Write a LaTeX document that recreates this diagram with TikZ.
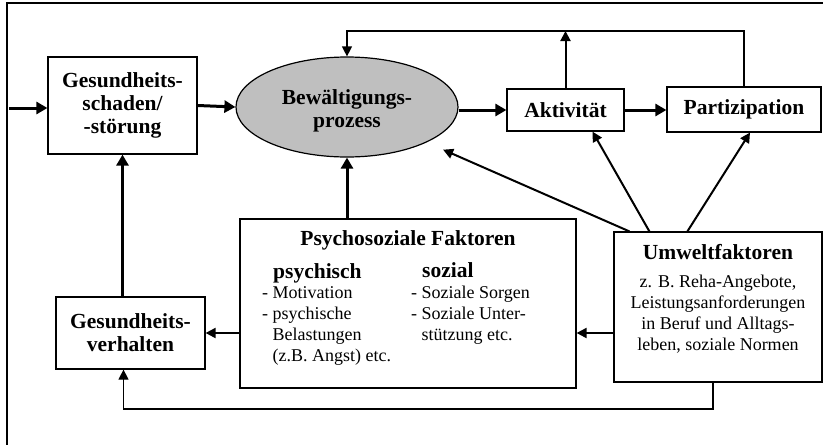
\documentclass[tikz,border=0pt]{standalone}
\usepackage{fontspec}
\setmainfont{Liberation Serif}
\usetikzlibrary{shapes.geometric, arrows.meta, positioning, calc}
\newcommand{\titlefont}{\fontsize{21.5}{23}\selectfont\bfseries}
\newcommand{\bodyfont}{\fontsize{18}{21}\selectfont}
\tikzset{
  box/.style={draw, line width=1.2pt, inner sep=0pt, align=center, font=\titlefont},
  txt/.style={inner sep=0pt},
  bigarrow/.style={line width=3pt, -{Triangle[length=11pt, width=12pt]}},
  midarrow/.style={line width=2pt, -{Triangle[length=10pt, width=10pt]}},
  thinarrow/.style={line width=1.2pt, -{Triangle[length=10pt, width=10pt]}},
}

\begin{document}
\begin{tikzpicture}[x=1pt, y=-1pt]
        \useasboundingbox (0,0) rectangle (823,445);
        \draw[line width=1.2pt] (823,3) -- (7,3) -- (7,445);

        \node[box, minimum width=149pt, minimum height=97pt] (schaden) at (122.5,105.5) {Gesundheits-\\schaden/\\-störung};
        \node[box, ellipse, fill=black!25, minimum width=222pt, minimum height=100pt] (bew) at (347,107) {\rule{0pt}{22pt}Bewältigungs-\\prozess};
        \node[box, minimum width=117pt, minimum height=42pt] (akt) at (565.5,110) {Aktivität};
        \node[box, minimum width=154pt, minimum height=45pt] (part) at (744,109.5) {Partizipation};
        \node[box, minimum width=336pt, minimum height=169pt] (psycho) at (408,303.5) {};
        \node[box, minimum width=149pt, minimum height=72pt] (verh) at (130.5,333) {Gesundheits-\\verhalten};
        \node[box, minimum width=208pt, minimum height=150pt] (umwelt) at (718,307) {};

        % Psychosoziale Faktoren
        \node[txt, font=\titlefont] (psytitle) at (408,240) {Psychosoziale Faktoren};
        \node[txt, font=\titlefont, anchor=west] (psyhead) at (273,273.5) {psychisch};
        \node[txt, font=\titlefont, anchor=west] (sozhead) at (422,270.5) {sozial};
        \node[txt, font=\bodyfont, anchor=north west, align=left] (psylist) at (262,286) {- Motivation\\- psychische\\\phantom{- }Belastungen\\\phantom{- }(z.B. Angst) etc.};
        \node[txt, font=\bodyfont, anchor=north west, align=left] (sozlist) at (411,286) {- Soziale Sorgen\\- Soziale Unter-\\\phantom{- }stützung etc.};

        % Umweltfaktoren
        \node[txt, font=\titlefont] (umtitle) at (718,252.5) {Umweltfaktoren};
        \node[txt, font=\bodyfont, anchor=north, align=center] (umtext) at (718,275) {z. B. Reha-Angebote,\\Leistungsanforderungen\\in Beruf und Alltags-\\leben, soziale Normen};

        \coordinate (in) at (9,108);
        \coordinate (fb) at (0,31);
        \coordinate (bot) at (0,409);

        \draw[bigarrow] (in) -- (in -| schaden.west);
        \draw[bigarrow] (schaden.east) -- (bew.west);
        \draw[bigarrow] (bew.east |- akt) -- (akt.west);
        \draw[bigarrow] (akt.east) -- (part.west |- akt.east);
        \draw[bigarrow] (bew.south |- psycho.north) -- (bew.south);
        \draw[bigarrow] (schaden.south |- verh.north) -- (schaden.south);

        \draw[thinarrow] (part.north) -- (part.north |- fb) -| (bew.north);
        \draw[midarrow] (akt.north) -- (akt.north |- fb);

        \draw[midarrow, shorten >=18pt] ([xshift=16pt]umwelt.north west) -- (bew.-24);
        \draw[midarrow] ([xshift=36pt]umwelt.north west) -- ([xshift=27pt]akt.south);
        \draw[midarrow] ([xshift=74pt]umwelt.north west) -- ([xshift=6pt]part.south);

        \draw[midarrow] (psycho.west |- verh.east) -- (verh.east);
        \draw[midarrow] (umwelt.west |- verh.east) -- (psycho.east |- verh.east);
        \draw[thinarrow] ([xshift=-5pt]umwelt.south) -- ([xshift=-5pt]umwelt.south |- bot) -| ([xshift=-7pt]verh.south);
    \end{tikzpicture}
\end{document}
